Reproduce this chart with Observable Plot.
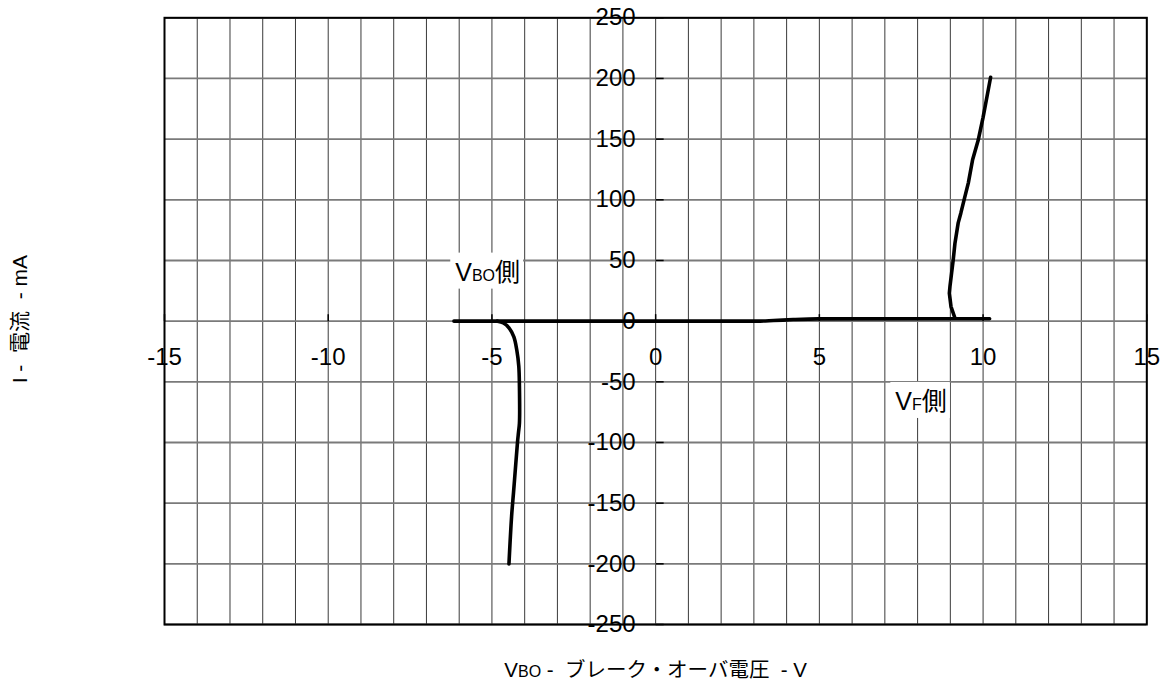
<!DOCTYPE html>
<html>
<head>
<meta charset="utf-8">
<script src="https://cdn.jsdelivr.net/npm/d3@7"></script>
<script src="https://cdn.jsdelivr.net/npm/@observablehq/plot@0.6"></script>
<style>
  html, body { margin: 0; padding: 0; background: #fff; }
  svg { display: block; }
</style>
</head>
<body>
<script>
// ---- Axis ticks / labels ----
const xTicks = [-15, -10, -5, 0, 5, 10, 15];
const xGrid = d3.range(-15, 16, 1);
const yTicks = [-250, -200, -150, -100, -50, 0, 50, 100, 150, 200, 250];

// ---- Off-state line (V, mA) ----
const offV = [-6.16, -4.8, 0, 3.1, 3.6, 4.2, 4.97, 9.1, 10.2];
const offI = [0, 0, 0, 0, 0.5, 1.3, 1.9, 2, 2];

// ---- VBO side (reverse breakdown) ----
const vboV = [-4.83, -4.65, -4.48, -4.33, -4.24, -4.18, -4.16, -4.16, -4.19, -4.22, -4.27, -4.34, -4.40, -4.48];
const vboI = [0, -1.5, -5.5, -13, -24, -37, -54, -84, -92, -100, -117, -141, -161, -200];

// ---- VF side (forward) ----
const vfV = [9.14, 9.02, 8.97, 8.99, 9.04, 9.09, 9.14, 9.24, 9.32, 9.42, 9.55, 9.68, 9.85, 10.0, 10.14, 10.23];
const vfI = [2.6, 12, 23, 29, 40, 51, 64, 81, 89, 100, 114, 133, 149, 168, 188, 201];

// ---- Annotations ----
const annotText = ["V_{BO}側", "V_{F}側"];
const annotV = [-6.12, 7.32];
const annotI = [40, -66.6];

const xTitle = "V_{BO} -\u00a0\u00a0ブレーク・オーバ電圧\u00a0\u00a0- V";
const yTitle = "I -\u00a0\u00a0電流\u00a0\u00a0- mA";

// build tables
const off = offV.map((v, i) => ({v, i: offI[i]}));
const vbo = vboV.map((v, i) => ({v, i: vboI[i]}));
const vf = vfV.map((v, i) => ({v, i: vfI[i]}));
const annots = annotText.map((t, k) => ({t, v: annotV[k], i: annotI[k]}));

const tickRight = {draw(ctx) { ctx.moveTo(0, 0); ctx.lineTo(8, 0); }};
const tickUp = {draw(ctx) { ctx.moveTo(0, 0); ctx.lineTo(0, -7); }};

const FONT = "'Liberation Sans', Arial, 'Noto Sans CJK JP', sans-serif";

const chart = Plot.plot({
  width: 1167,
  height: 687,
  marginLeft: 164,
  marginRight: 20.7,
  marginTop: 17.3,
  marginBottom: 63,
  x: {domain: [-15, 15], axis: null},
  y: {domain: [-250, 250], axis: null},
  style: {fontFamily: FONT, background: "white", color: "black"},
  marks: [
    Plot.ruleX(xGrid, {x: d => d, stroke: "#3a3a3a", strokeWidth: 1}),
    Plot.ruleY(yTicks, {y: d => d, stroke: "#7a7a7a", strokeWidth: 1.8}),
    Plot.dot(yTicks, {x: () => 0, y: d => d, symbol: tickRight, stroke: "black", fill: "none", strokeWidth: 1.5}),
    Plot.dot(xTicks, {x: d => d, y: () => 0, symbol: tickUp, stroke: "black", fill: "none", strokeWidth: 1.5}),
    Plot.text(yTicks, {x: () => 0, y: d => d, text: d => String(d), textAnchor: "end", dx: -20, fontSize: 24, fill: "black"}),
    Plot.text(xTicks, {x: d => d, y: () => 0, text: d => String(d), dy: 36.3, fontSize: 24, fill: "black"}),
    Plot.line(off, {x: "v", y: "i", stroke: "black", strokeWidth: 3.6, curve: "monotone-x"}),
    Plot.line(vbo, {x: "v", y: "i", stroke: "black", strokeWidth: 3.6, curve: "catmull-rom"}),
    Plot.line(vf, {x: "v", y: "i", stroke: "black", strokeWidth: 3.6, curve: "linear"}),
    Plot.text(annots, {x: "v", y: "i", text: "t", textAnchor: "start", fontSize: 25, fill: "black"}),
    Plot.frame({stroke: "black", strokeWidth: 2}),
    Plot.text([xTitle], {frameAnchor: "bottom", textAnchor: "middle", lineAnchor: "middle", dy: 45.5, fontSize: 20.5, fill: "black"}),
    Plot.text([yTitle], {frameAnchor: "left", textAnchor: "middle", lineAnchor: "middle", dx: -144, dy: -2, rotate: -90, fontSize: 21, fill: "black"})
  ]
});

document.body.appendChild(chart);

// subscripts: "_{..}" rendered as smaller tspans
const SVGNS = "http://www.w3.org/2000/svg";
chart.querySelectorAll("text").forEach(t => {
  const s = t.textContent;
  if (!s.includes("_{")) return;
  t.textContent = "";
  for (const p of s.split(/(_\{[^}]*\})/)) {
    if (!p) continue;
    const ts = document.createElementNS(SVGNS, "tspan");
    if (p.startsWith("_{")) {
      ts.textContent = p.slice(2, -1);
      ts.setAttribute("font-size", "16");
    } else {
      ts.textContent = p;
    }
    t.appendChild(ts);
  }
  // white box behind the in-plot annotations
  if (s.includes("側")) {
    const b = t.getBBox();
    const r = document.createElementNS(SVGNS, "rect");
    r.setAttribute("x", b.x - 5);
    r.setAttribute("y", b.y - 5);
    r.setAttribute("width", b.width + 8);
    r.setAttribute("height", b.height + 8);
    r.setAttribute("fill", "white");
    r.setAttribute("stroke", "none");
    const tr = t.getAttribute("transform");
    if (tr) r.setAttribute("transform", tr);
    t.parentNode.insertBefore(r, t);
  }
});
</script>
</body>
</html>
